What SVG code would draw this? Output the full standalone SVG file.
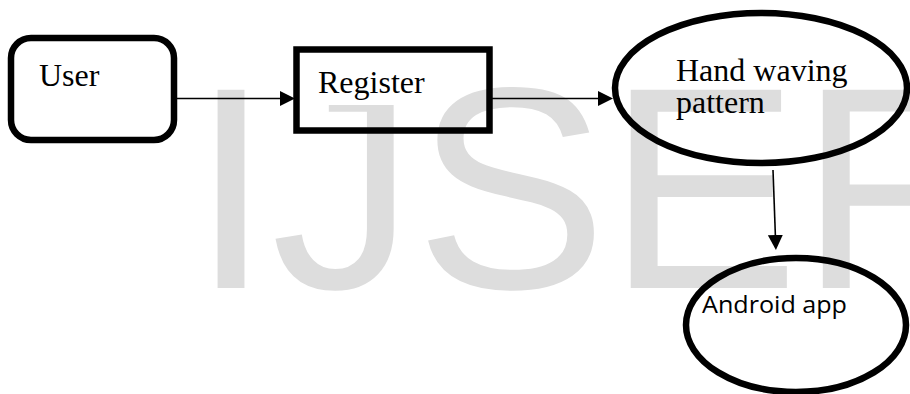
<svg xmlns="http://www.w3.org/2000/svg" width="910" height="394" viewBox="0 0 910 394">
  <style>
    .mark { font-family: "Liberation Sans", Arial, sans-serif; font-size: 288px; fill: #dddddd; }
    .box { fill: none; stroke: #000; stroke-width: 6.5; }
    .lbl { font-family: "Liberation Serif", "Times New Roman", serif; font-size: 32px; fill: #000; }
    .lbl-sans { font-family: "Open Sans", "Noto Sans", sans-serif; font-size: 24px; fill: #000; }
    .edge { fill: none; stroke: #000; stroke-width: 1.6; }
  </style>
  <defs>
    <marker id="arrow" markerUnits="userSpaceOnUse" markerWidth="16" markerHeight="16" refX="12" refY="7.5" orient="auto">
      <path d="M0,0 L15,7.5 L0,15 Z" fill="#000"/>
    </marker>
  </defs>

  <rect width="910" height="394" fill="#fff"/>

  <!-- background watermark -->
  <text class="mark" x="191" y="288">IJSER</text>

  <g id="user">
    <rect class="box" x="11" y="38" width="163" height="102" rx="20" ry="20"/>
    <text class="lbl" x="39" y="86">User</text>
  </g>

  <g id="register">
    <!-- white text frame behind the label -->
    <rect x="300" y="53" width="140" height="52" fill="#fff"/>
    <rect class="box" x="296.5" y="49.5" width="193" height="81"/>
    <text class="lbl" x="318" y="93">Register</text>
  </g>

  <g id="hand-waving">
    <ellipse class="box" cx="761" cy="88" rx="146" ry="75"/>
    <text class="lbl" x="676" y="81">Hand waving</text>
    <text class="lbl" x="676" y="113">pattern</text>
  </g>

  <g id="android-app">
    <ellipse class="box" cx="796" cy="325" rx="110" ry="67"/>
    <text class="lbl-sans" x="702" y="313" textLength="145" lengthAdjust="spacingAndGlyphs">Android app</text>
  </g>

  <g id="connectors">
    <line class="edge" x1="174" y1="98.5" x2="292" y2="98.5" marker-end="url(#arrow)"/>
    <line class="edge" x1="490" y1="98.5" x2="610" y2="98.5" marker-end="url(#arrow)"/>
    <line class="edge" x1="773" y1="170" x2="775.8" y2="247" marker-end="url(#arrow)"/>
  </g>
</svg>
